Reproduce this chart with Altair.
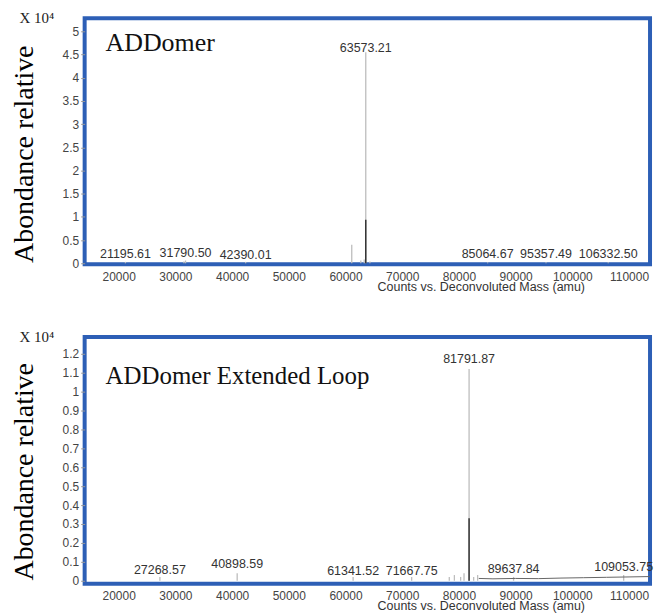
import altair as alt
import pandas as pd

# ---------------- data (abundance in units of 10^4) ----------------
x_ticks = [20000, 30000, 40000, 50000, 60000, 70000, 80000, 90000, 100000, 110000]

# Panel 1: ADDomer
p1_peak_mass = [21195.61, 31790.50, 31500, 42390.01, 61100, 62700, 63300, 63573.21, 64300, 85064.67, 95357.49, 106332.50]
p1_peak_height = [0.03, 0.06, 0.04, 0.03, 0.40, 0.06, 0.08, 4.55, 0.04, 0.02, 0.02, 0.02]
p1_base_mass = [63573.21]
p1_base_height = [0.94]
p1_label_mass = [21195.61, 31790.50, 42390.01, 63573.21, 85064.67, 95357.49, 106332.50]
p1_label_text = ["21195.61", "31790.50", "42390.01", "63573.21", "85064.67", "95357.49", "106332.50"]
p1_label_y = [0.19, 0.23, 0.17, 4.63, 0.19, 0.19, 0.19]
p1_y_ticks = [0, 0.5, 1, 1.5, 2, 2.5, 3, 3.5, 4, 4.5, 5]

# Panel 2: ADDomer Extended Loop
p2_peak_mass = [27268.57, 40898.59, 61341.52, 71667.75, 78300, 79200, 80300, 80900, 81791.87, 82600, 83300, 89637.84, 109053.75]
p2_peak_height = [0.02, 0.04, 0.02, 0.02, 0.02, 0.03, 0.02, 0.04, 1.12, 0.02, 0.03, 0.02, 0.03]
p2_base_mass = [81791.87]
p2_base_height = [0.33]
p2_noise_mass = [83500, 86000, 90000, 94000, 98000, 102000, 106000, 110000, 113700]
p2_noise_val = [0.012, 0.010, 0.012, 0.011, 0.014, 0.016, 0.018, 0.020, 0.022]
p2_label_mass = [27268.57, 40898.59, 61341.52, 71667.75, 81791.87, 89637.84, 109053.75]
p2_label_text = ["27268.57", "40898.59", "61341.52", "71667.75", "81791.87", "89637.84", "109053.75"]
p2_label_y = [0.058, 0.09, 0.053, 0.053, 1.174, 0.063, 0.074]
p2_y_ticks = [0, 0.1, 0.2, 0.3, 0.4, 0.5, 0.6, 0.7, 0.8, 0.9, 1, 1.1, 1.2]

X_DOMAIN = [14000, 113700]
W = 568
SANS = "Liberation Sans"
SERIF = "Liberation Serif"


def panel(name, peak_m, peak_h, base_m, base_h, lab_m, lab_t, lab_y, y_ticks,
          y_domain, height, title_y, name_y, name_size, noise=None):
    x_enc = alt.X("m:Q", scale=alt.Scale(domain=X_DOMAIN, nice=False, zero=False),
                  axis=alt.Axis(values=x_ticks, format="d", ticks=False, labelPadding=7,
                                labelOverlap=False,
                                title="Counts vs. Deconvoluted Mass (amu)", titlePadding=-2,
                                titleFont=SANS, titleFontSize=12.5, titleFontWeight="normal",
                                titleColor="#333", titleX=398, titleAlign="center"))
    y_scale = alt.Scale(domain=y_domain, nice=False, zero=False)
    y_enc = alt.Y("h:Q", scale=y_scale,
                  axis=alt.Axis(values=y_ticks, format=".1~f", title="Abondance relative",
                                labelOverlap=False,
                                titleFont=SERIF, titleFontSize=28, titleFontWeight="normal",
                                titleColor="black", titlePadding=24, titleY=title_y))

    peaks = alt.Chart(pd.DataFrame({"m": peak_m, "h": peak_h, "z": [0] * len(peak_m)})).mark_rule(
        color="#bdbdbd", strokeWidth=1.3).encode(x=x_enc, y=y_enc, y2="z:Q")
    base = alt.Chart(pd.DataFrame({"m": base_m, "h": base_h, "z": [0] * len(base_m)})).mark_rule(
        color="#333333", strokeWidth=1.5).encode(x=x_enc, y=y_enc, y2="z:Q")
    labels = alt.Chart(pd.DataFrame({"m": lab_m, "h": lab_y, "t": lab_t})).mark_text(
        font=SANS, fontSize=12.5, color="#333", baseline="middle", align="center").encode(
        x=x_enc, y=y_enc, text="t:N")
    layers = [peaks, base]
    if noise is not None:
        nl = alt.Chart(pd.DataFrame({"m": noise[0], "h": noise[1]})).mark_line(
            color="#666", strokeWidth=1).encode(x=x_enc, y=y_enc)
        layers.append(nl)
    title_txt = alt.Chart(pd.DataFrame({"t": [name]})).mark_text(
        font=SERIF, fontSize=name_size, color="#111", align="left", baseline="alphabetic").encode(
        x=alt.value(21), y=alt.value(name_y), text="t:N")
    unit_txt = alt.Chart(pd.DataFrame({"t": ["X 10\u2074"]})).mark_text(
        font=SERIF, fontSize=15, color="#222", align="center", baseline="middle").encode(
        x=alt.value(-48), y=alt.value(0), text="t:N")
    layers += [labels, title_txt, unit_txt]
    return alt.layer(*layers).properties(width=W, height=height)


top = panel("ADDomer", p1_peak_mass, p1_peak_height, p1_base_mass, p1_base_height,
            p1_label_mass, p1_label_text, p1_label_y, p1_y_ticks, [-0.02, 5.28], 247, 136, 33, 26)
bottom = panel("ADDomer Extended Loop", p2_peak_mass, p2_peak_height, p2_base_mass, p2_base_height,
               p2_label_mass, p2_label_text, p2_label_y, p2_y_ticks, [-0.016, 1.29], 248, 135, 47, 25,
               noise=(p2_noise_mass, p2_noise_val))

chart = alt.vconcat(top, bottom, spacing=33).properties(
    padding={"left": 0, "top": 0, "right": 0, "bottom": 0},
    background="white"
).configure_view(
    stroke="#2d5fb6", strokeWidth=4
).configure_axis(
    grid=False, domain=False, labelFont=SANS, labelFontSize=12, labelColor="#444",
    tickColor="#999", tickSize=4, labelPadding=2
)

chart.save("out.html", embed_options={"renderer": "svg", "actions": False})
